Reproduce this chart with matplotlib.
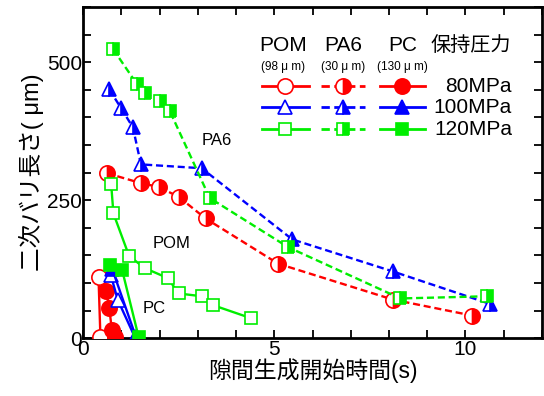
import matplotlib
matplotlib.use("Agg")
import matplotlib.pyplot as plt
from matplotlib.ticker import MultipleLocator

plt.rcParams['font.family'] = ['Liberation Sans', 'Noto Sans CJK JP', 'DejaVu Sans']

# data: time (s), burr length (um)
pom80_x = [0.40, 0.45]
pom80_y = [110, 2]
pom100_x = [0.72, 0.90, 1.35]
pom100_y = [115, 70, 2]
pom120_x = [0.73, 0.79, 1.20, 1.61, 2.21, 2.50, 3.10, 3.39, 4.40]
pom120_y = [280, 226, 149, 127, 109, 81, 76, 60, 36]

pa80_x = [0.62, 1.51, 1.98, 2.50, 3.20, 5.10, 8.10, 10.18]
pa80_y = [299, 281, 274, 256, 217, 135, 70, 41]
pa100_x = [0.68, 0.99, 1.30, 1.51, 3.10, 5.47, 8.10, 10.65]
pa100_y = [451, 417, 382, 315, 308, 179, 121, 62]
pa120_x = [0.78, 1.41, 1.61, 2.00, 2.27, 3.31, 5.36, 8.30, 10.57]
pa120_y = [524, 460, 444, 429, 411, 254, 165, 72, 76]

pc80_x = [0.60, 0.68, 0.75, 0.82]
pc80_y = [85, 55, 15, 3]
pc100_x = [0.76, 1.38]
pc100_y = [125, 2]
pc120_x = [0.70, 1.02, 1.45]
pc120_y = [132, 123, 2]

pressures = ['80MPa', '100MPa', '120MPa']
colors = ['#ff0000', '#0000ff', '#00ee00']
markers = ['o', '^', 's']
msizes = [11, 9.5, 9]
dash = (0, (3, 1.6))

fig = plt.figure(figsize=(5.44, 3.96), dpi=100)
ax = fig.add_axes([0.153, 0.146, 0.843, 0.836])

pom = [(pom80_x, pom80_y), (pom100_x, pom100_y), (pom120_x, pom120_y)]
pa6 = [(pa80_x, pa80_y), (pa100_x, pa100_y), (pa120_x, pa120_y)]
pc = [(pc80_x, pc80_y), (pc100_x, pc100_y), (pc120_x, pc120_y)]

for i in range(3):
    c, m, ms = colors[i], markers[i], msizes[i]
    ax.plot(*pom[i], color=c, lw=1.7, marker=m, ms=ms, mfc='white', mec=c, mew=1.2, zorder=3)
    ax.plot(*pa6[i], color=c, lw=1.7, ls=dash, marker=m, ms=ms, mfc=c, mec=c,
            fillstyle='right', markerfacecoloralt='white', mew=1.2, zorder=3)
    ax.plot(*pc[i], color=c, lw=1.7, marker=m, ms=ms, mfc=c, mec=c, mew=1.2, zorder=3)

ax.text(3.5, 359, 'PA6', fontsize=12, ha='center', va='center')
ax.text(2.3, 172, 'POM', fontsize=12, ha='center', va='center')
ax.text(1.85, 54, 'PC', fontsize=12, ha='center', va='center')

ax.set_xlim(0, 12)
ax.set_ylim(0, 600)
ax.set_xticks([0, 5, 10])
ax.set_yticks([0, 250, 500])
ax.xaxis.set_minor_locator(MultipleLocator(1))
ax.yaxis.set_minor_locator(MultipleLocator(50))
ax.tick_params(which='both', direction='in', top=True, right=True, length=6, width=1.3, labelsize=15)
ax.tick_params(axis='x', pad=1)
ax.tick_params(axis='y', pad=1)
for s in ax.spines.values():
    s.set_linewidth(2)

ax.set_xlabel('隙間生成開始時間(s)', fontsize=16.5, labelpad=0)
ax.set_ylabel('二次バリ長さ( μm)', fontsize=17, labelpad=2)

# legend table
tr = ax.transAxes
heads = [('POM', '(98 μ m)', 0.436), ('PA6', '(30 μ m)', 0.566), ('PC', '(130 μ m)', 0.697)]
for name, sub, xc in heads:
    ax.text(xc, 0.885, name, transform=tr, fontsize=15, ha='center', va='center')
    ax.text(xc, 0.820, sub, transform=tr, fontsize=8.5, ha='center', va='center')
ax.text(0.845, 0.885, '保持圧力', transform=tr, fontsize=14.5, ha='center', va='center')

rows = [0.761, 0.698, 0.631]
spans = [(0.390, 0.492), (0.518, 0.614), (0.647, 0.745)]
for i in range(3):
    c, m, ms, yr = colors[i], markers[i], msizes[i], rows[i]
    for j, (x0, x1) in enumerate(spans):
        xm = (x0 + x1) / 2
        kw = dict(color=c, lw=2, transform=tr, clip_on=False)
        if j == 1:
            kw['ls'] = dash
        ax.plot([x0, x1], [yr, yr], **kw)
        mk = dict(marker=m, ms=ms, mec=c, mew=1.2, color=c, transform=tr, clip_on=False, ls='none')
        if j == 0:
            ax.plot([xm], [yr], mfc='white', **mk)
        elif j == 1:
            ax.plot([xm], [yr], mfc=c, fillstyle='right', markerfacecoloralt='white', **mk)
        else:
            ax.plot([xm], [yr], mfc=c, **mk)
    ax.text(0.935, yr, pressures[i], transform=tr, fontsize=15, ha='right', va='center')

fig.savefig('out.png', dpi=100)
